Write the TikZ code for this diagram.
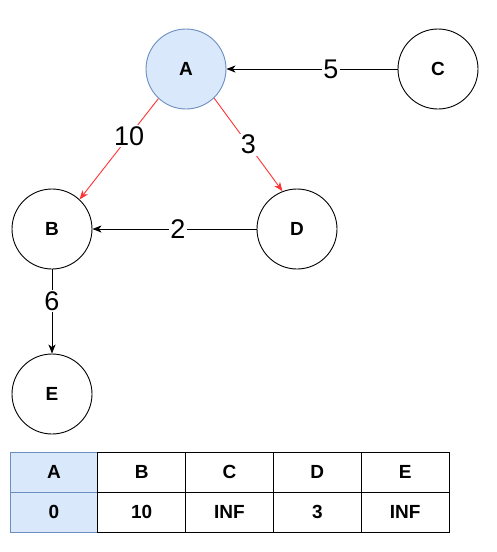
\documentclass[tikz,border=0pt]{standalone}
\usepackage{fontspec}
\setmainfont{Liberation Sans}
\usetikzlibrary{arrows.meta}
\definecolor{srcfill}{HTML}{DAE8FC}
\definecolor{srcline}{HTML}{6C8EBF}
\definecolor{pathred}{HTML}{FF3333}
\tikzset{
  vertex/.style={circle, draw=black, line width=0.9pt, minimum size=80pt, inner sep=0pt,
    font=\fontsize{19}{22}\selectfont\bfseries},
  source/.style={vertex, draw=srcline, fill=srcfill},
  edge/.style={line width=0.9pt, -{Stealth[length=9pt,width=7pt,inset=2.5pt]}},
  hot/.style={edge, draw=pathred},
  weight/.style={fill=white, inner sep=1.5pt, font=\fontsize{27}{30}\selectfont},
  cell/.style={draw=black, line width=0.9pt, minimum width=87.8pt, minimum height=40pt,
    inner sep=0pt, font=\fontsize{19}{22}\selectfont\bfseries},
  srccell/.style={cell, draw=srcline, fill=srcfill}
}
\begin{document}
\begin{tikzpicture}[x=1pt, y=-1pt]
  \useasboundingbox (0,0) rectangle (496,552);

  % graph vertices
  \node[source] (A) at (186,69) {A};
  \node[vertex] (C) at (438,69) {C};
  \node[vertex] (B) at (52,229) {B};
  \node[vertex] (D) at (297,229) {D};
  \node[vertex] (E) at (52,394) {E};

  % weighted edges
  \draw[edge] (C) -- node[weight, pos=0.39] {5} (A);
  \draw[hot] (A.-133) -- node[weight, pos=0.37] {10} (B.47);
  \draw[hot] (A.-46) -- node[weight, pos=0.5] {3} (D.111);
  \draw[edge] (D) -- node[weight, pos=0.48] {2} (B);
  \draw[edge] (B) -- node[weight, pos=0.38] {6} (E);

  % distance table
  \node[srccell] (hA) at (53.9,472) {A};
  \node[srccell] (vA) at (53.9,512) {0};
  \node[cell] (hB) at (141.7,472) {B};
  \node[cell] (vB) at (141.7,512) {10};
  \node[cell] (hC) at (229.5,472) {C};
  \node[cell] (vC) at (229.5,512) {INF};
  \node[cell] (hD) at (317.3,472) {D};
  \node[cell] (vD) at (317.3,512) {3};
  \node[cell] (hE) at (405.1,472) {E};
  \node[cell] (vE) at (405.1,512) {INF};
\end{tikzpicture}
\end{document}
